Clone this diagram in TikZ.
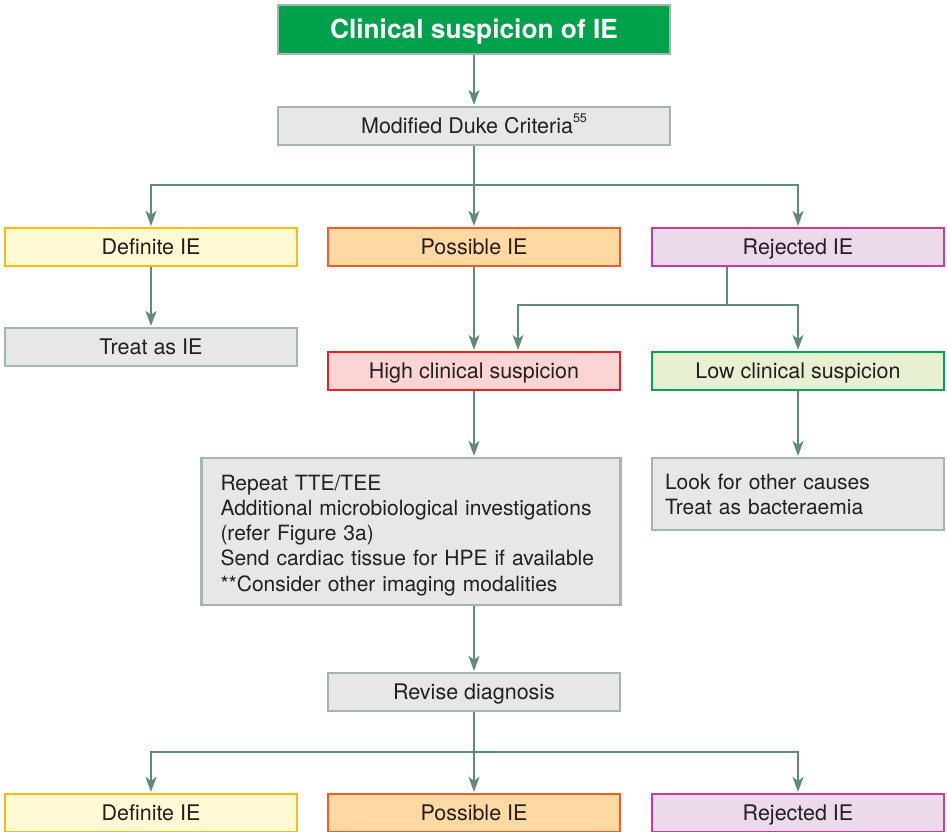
\documentclass[tikz,border=0pt]{standalone}
\usepackage{fontspec}
\setmainfont{TeX Gyre Heros}
\usetikzlibrary{arrows.meta}
\definecolor{lnc}{HTML}{5E8B7C}
\definecolor{gbord}{HTML}{A2B7AF}
\definecolor{gfill}{HTML}{E6E7E6}
\definecolor{ttl}{HTML}{00A14B}
\definecolor{yfill}{HTML}{FFF9D4}
\definecolor{ybord}{HTML}{FDBB13}
\definecolor{ofill}{HTML}{FFD9A1}
\definecolor{obord}{HTML}{F15D2A}
\definecolor{pfill}{HTML}{ECD9EA}
\definecolor{pbord}{HTML}{CB3B9A}
\definecolor{rfill}{HTML}{FCD4D3}
\definecolor{rbord}{HTML}{EC2128}
\definecolor{lfill}{HTML}{E8F0D2}
\definecolor{lbord}{HTML}{00A651}
\definecolor{txt}{HTML}{231F20}
\tikzset{
  box/.style={draw, line width=2.2pt, inner sep=0pt, minimum width=292pt, minimum height=38pt,
    text=txt, font=\fontsize{21.5}{25}\selectfont},
  oneline/.style={text height=18pt, text depth=4pt},
  graybox/.style={box, draw=gbord, fill=gfill},
  defbox/.style={box, oneline, draw=ybord, fill=yfill},
  posbox/.style={box, oneline, draw=obord, fill=ofill},
  rejbox/.style={box, oneline, draw=pbord, fill=pfill},
  hibox/.style={box, oneline, draw=rbord, fill=rfill},
  lobox/.style={box, oneline, draw=lbord, fill=lfill},
  conn/.style={draw=lnc, line width=1.5pt},
  arr/.style={conn, -{Stealth[length=15pt, width=11pt, inset=4pt]}, shorten >=1pt},
}
\begin{document}
\begin{tikzpicture}[x=1pt, y=-1pt]
\useasboundingbox (0,0) rectangle (947,831);
\node[box, draw=gbord, fill=ttl, minimum width=392pt, minimum height=49pt, text=white,
  text height=21pt, text depth=3.4pt,
  font=\fontsize{26.3}{30}\bfseries] (title) at (474,29.5) {Clinical suspicion of IE};
\node[graybox, oneline, minimum width=392pt] (duke) at (474,126) {Modified Duke Criteria\raisebox{0.5em}{\fontsize{12.5}{14}\selectfont 55}};
\node[defbox] (def1) at (151,247) {Definite IE};
\node[posbox] (pos1) at (474,247) {Possible IE};
\node[rejbox] (rej1) at (798,247) {Rejected IE};
\node[graybox, oneline] (treat) at (151,347) {Treat as IE};
\node[hibox] (high) at (474,371) {High clinical suspicion};
\node[lobox] (low) at (798,371) {Low clinical suspicion};
\node[graybox, minimum width=419pt, minimum height=147pt, align=left, text width=381pt,
  inner xsep=19pt, font=\fontsize{21}{25.2}\selectfont] (rep) at (411,531.5) {\rule{0pt}{23pt}Repeat TTE/TEE\\Additional microbiological investigations\\(refer Figure 3a)\\Send cardiac tissue for HPE if available\\{}**Consider other imaging modalities};
\node[graybox, minimum height=72pt, align=left, text width=266pt, inner xsep=13pt,
  font=\fontsize{21}{25.2}\selectfont] (look) at (798,494) {\rule{0pt}{17pt}Look for other causes\\Treat as bacteraemia};
\node[graybox, oneline] (rev) at (474,692) {Revise diagnosis};
\node[defbox] (def2) at (151,813) {Definite IE};
\node[posbox] (pos2) at (474,813) {Possible IE};
\node[rejbox] (rej2) at (798,813) {Rejected IE};
% connectors
\draw[arr] (title) -- (duke);
\coordinate (j1) at (474,185);
\draw[conn] (duke.south) -- (j1);
\draw[arr] (j1) -| (def1);
\draw[arr] (j1) -| (rej1);
\draw[arr] (j1) -- (pos1);
\draw[arr] (def1) -- (treat);
\draw[arr] (pos1) -- (high);
\coordinate (r1) at (727,305);
\coordinate (hx) at (518,305);
\draw[conn] (rej1.south -| r1) -- (r1);
\draw[arr] (r1) -- (hx) -- (hx |- high.north);
\draw[arr] (r1) -| (low);
\draw[arr] (high) -- (high |- rep.north);
\draw[arr] (low) -- (look);
\draw[arr] (rep.south -| rev) -- (rev);
\coordinate (j2) at (474,752);
\draw[conn] (rev.south) -- (j2);
\draw[arr] (j2) -| (def2);
\draw[arr] (j2) -| (rej2);
\draw[arr] (j2) -- (pos2);
\end{tikzpicture}
\end{document}
